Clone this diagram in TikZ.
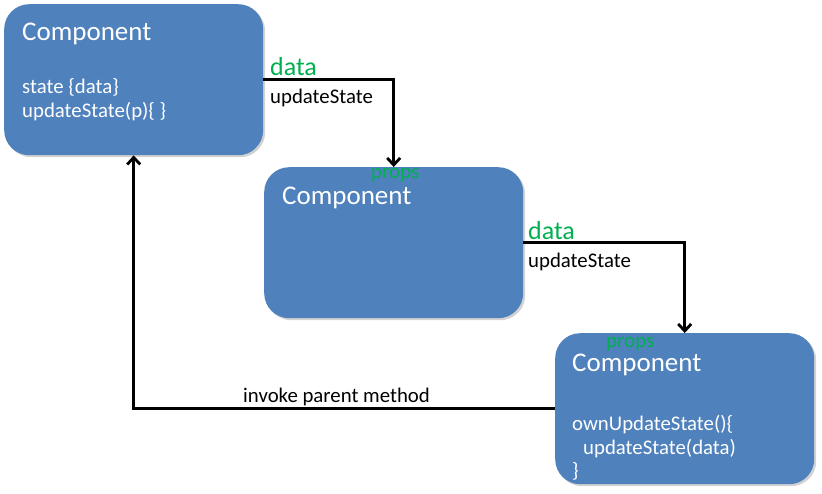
\documentclass[tikz,border=0pt]{standalone}
\usepackage{fontspec}
\setmainfont{Carlito}
\usetikzlibrary{arrows.meta,shadows}
\definecolor{boxblue}{HTML}{4F81BD}
\definecolor{lblgreen}{HTML}{00B050}
\begin{document}
\begin{tikzpicture}[x=1pt,y=-1pt,
  box/.style={fill=boxblue, rounded corners=25pt, minimum width=259pt, minimum height=151pt, anchor=north west, inner sep=0pt, drop shadow={shadow xshift=2pt,shadow yshift=-2pt,opacity=0.35}},
  title/.style={anchor=base west, text=white, font=\fontsize{27}{31}\selectfont, inner sep=0pt},
  body/.style={anchor=base west, text=white, font=\fontsize{20.8}{24}\selectfont, inner sep=0pt},
  lbl/.style={anchor=base west, font=\fontsize{20.8}{24}\selectfont, inner sep=0pt},
  dlbl/.style={anchor=base west, text=lblgreen, font=\fontsize{26}{30}\selectfont, inner sep=0pt},
  plbl/.style={anchor=base west, text=lblgreen, font=\fontsize{21}{24}\selectfont, inner sep=0pt},
  arr/.style={line width=2.8pt, -{Straight Barb[length=7pt,width=13pt]}}]
\useasboundingbox[fill=white] (0,0) rectangle (822,493);
% boxes
\node[box] (b1) at (4,4) {};
\node[box] (b2) at (264,167) {};
\node[box] (b3) at (555,333) {};
% connectors
\draw[arr] (b1.east) -| (b2.north);
\draw[arr] (b2.east) -| (b3.north);
\draw[arr] (b3.west) -| (b1.south);
% box texts
\node[title] (t1) at (22,40) {Component};
\node[body] (s1) at (22,93) {state \{data\}};
\node[body] (u1) at (22,117) {updateState(p)\{ \}};
\node[title] (t2) at (282,204) {Component};
\node[title] (t3) at (572,371) {Component};
\node[body] (o3) at (572,430) {ownUpdateState()\{};
\node[body] (u3) at (583,454) {updateState(data)};
\node[body] (c3) at (572,477) {\}};
% connector labels
\node[dlbl] (d1) at (270,75) {data};
\node[lbl] (l1) at (270,103) {updateState};
\node[plbl] (p2) at (371,178) {props};
\node[dlbl] (d2) at (528,239) {data};
\node[lbl] (l2) at (528,267) {updateState};
\node[plbl] (p3) at (606,347) {props};
\node[lbl] (l3) at (243,402) {invoke parent method};
\end{tikzpicture}
\end{document}
